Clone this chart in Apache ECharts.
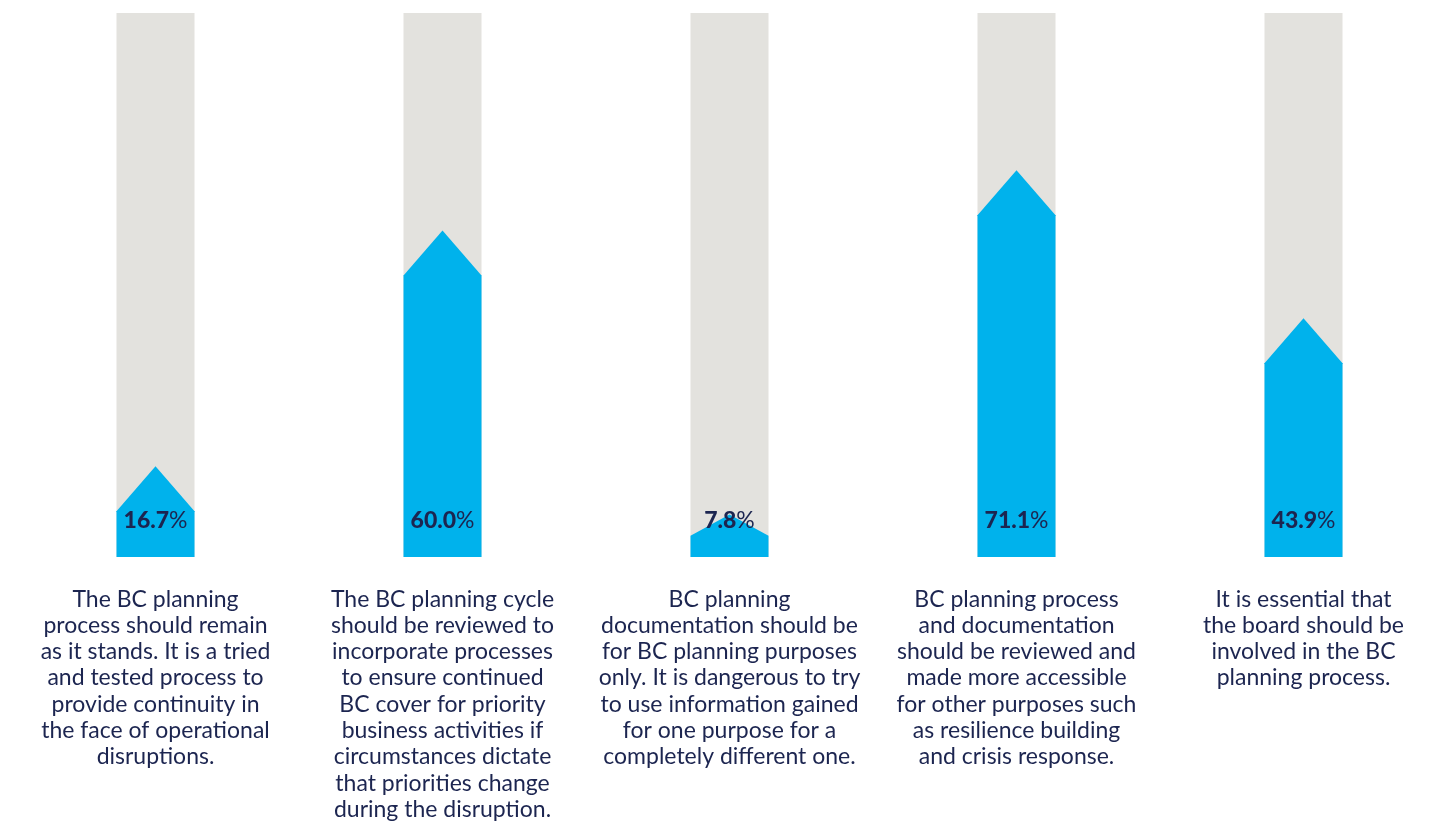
<!DOCTYPE html>
<html lang="en">
<head>
    <meta charset="UTF-8">
    <title>BC planning</title>
    <script src="https://cdn.jsdelivr.net/npm/echarts@6/dist/echarts.min.js"></script>
    <style>
        html, body { margin: 0; padding: 0; background: #fff; }
    </style>
</head>
<body>
    <div id="main" style="width: 1449px; height: 826px;"></div>
    <script type="text/javascript">
        var categories = [
            'The BC planning\nprocess should remain\nas it stands. It is a tried\nand tested process to\nprovide continuity in\nthe face of operational\ndisruptions.',
            'The BC planning cycle\nshould be reviewed to\nincorporate processes\nto ensure continued\nBC cover for priority\nbusiness activities if\ncircumstances dictate\nthat priorities change\nduring the disruption.',
            'BC planning\ndocumentation should be\nfor BC planning purposes\nonly. It is dangerous to try\nto use information gained\nfor one purpose for a\ncompletely different one.',
            'BC planning process\nand documentation\nshould be reviewed and\nmade more accessible\nfor other purposes such\nas resilience building\nand crisis response.',
            'It is essential that\nthe board should be\ninvolved in the BC\nplanning process.'
        ];
        var values = [16.7, 60.0, 7.8, 71.1, 43.9];
        var maxValue = 100;

        var navy = '#1c2550';
        var myChart = echarts.init(document.getElementById('main'));

        // 每根柱子：灰色底 + 蓝色箭头
        function renderItem(params, api) {
            var idx = api.value(0);
            var val = api.value(1);
            var bottom = api.coord([idx, 0]);
            var top = api.coord([idx, maxValue]);
            var tip = api.coord([idx, val]);
            var w = 78;
            var x0 = bottom[0] - w / 2;
            var x1 = bottom[0] + w / 2;
            var h = bottom[1] - tip[1];
            var shoulderH = Math.max(h - 45, h * 0.5);
            var shoulderY = bottom[1] - shoulderH;
            return {
                type: 'group',
                children: [
                    {
                        type: 'rect',
                        shape: { x: x0, y: top[1], width: w, height: bottom[1] - top[1] },
                        style: { fill: '#e3e2de' }
                    },
                    {
                        type: 'polygon',
                        shape: { points: [[x0, bottom[1]], [x0, shoulderY], [bottom[0], tip[1]], [x1, shoulderY], [x1, bottom[1]]] },
                        style: { fill: '#00b2ec' }
                    },
                    {
                        type: 'text',
                        x: bottom[0],
                        y: bottom[1] - 36,
                        style: {
                            text: '{b|' + val.toFixed(1) + '}{n|%}',
                            align: 'center',
                            verticalAlign: 'middle',
                            rich: {
                                b: { fontFamily: 'Lato', fontWeight: 900, fontSize: 23, fill: navy, color: navy },
                                n: { fontFamily: 'Lato', fontSize: 23, fill: navy, color: navy }
                            }
                        }
                    }
                ]
            };
        }

        option = {
            backgroundColor: '#ffffff',
            animation: false,
            grid: { left: 12, right: 2, top: 13, bottom: 269, containLabel: false },
            xAxis: {
                type: 'category',
                data: categories,
                axisLine: { show: false },
                axisTick: { show: false },
                axisLabel: {
                    interval: 0,
                    margin: 29,
                    color: navy,
                    fontFamily: 'Lato',
                    fontSize: 23,
                    lineHeight: 26.3,
                    align: 'center',
                    verticalAlign: 'top'
                }
            },
            yAxis: {
                type: 'value',
                min: 0,
                max: maxValue,
                show: false
            },
            series: [
                {
                    type: 'custom',
                    renderItem: renderItem,
                    encode: { x: 0, y: 1 },
                    data: values.map(function (v, i) { return [i, v]; })
                }
            ]
        };
        myChart.setOption(option);
    </script>
</body>
</html>
